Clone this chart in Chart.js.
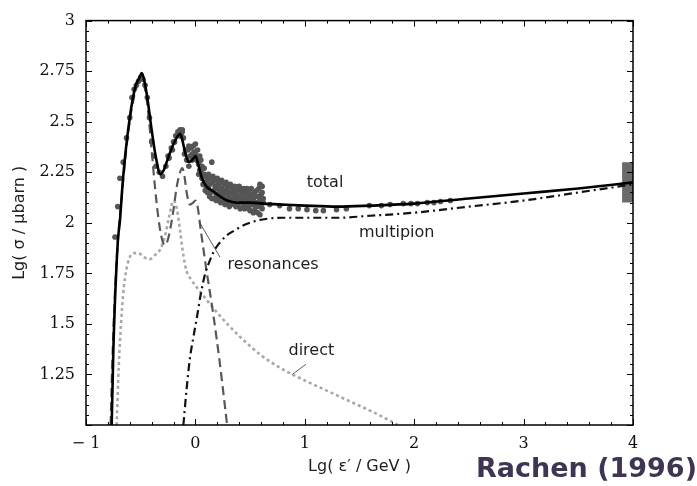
<!DOCTYPE html>
<html>
<head>
<meta charset="utf-8">
<script src="https://cdn.jsdelivr.net/npm/chart.js@4/dist/chart.umd.min.js"></script>
<style>
  html, body { margin: 0; padding: 0; background: #fff; }
  #wrap { width: 697px; height: 486px; }
</style>
</head>
<body>
<div id="wrap"><canvas id="myChart"></canvas></div>
<script>
// measured points
const measX = [-0.735,-0.71,-0.69,-0.66,-0.63,-0.60,-0.58,-0.56,-0.54,-0.52,-0.50,-0.48,-0.46,-0.44,-0.42,-0.40,-0.38,-0.36,-0.33,-0.30,
  -0.27,-0.25,-0.22,-0.20,-0.18,-0.16,-0.14,-0.12,-0.11,-0.10,-0.08,-0.07,-0.05,-0.04,-0.03,-0.02,-0.01,0.00,0.01,0.02,
  0.03,0.04,0.05,0.06,0.08,0.09,0.10,0.11,0.12,0.13,0.15,0.14,0.16,0.17,0.18,0.19,0.20,0.21,0.22,0.23,
  0.24,0.25,0.26,0.27,0.28,0.29,0.30,0.31,0.32,0.33,0.34,0.35,0.36,0.37,0.38,0.39,0.40,0.41,0.42,0.43,
  0.44,0.45,0.46,0.47,0.48,0.49,0.50,0.51,0.52,0.53,0.54,0.55,0.56,0.57,0.58,0.59,0.60,0.61,0.62,
  0.68,0.77,0.86,0.94,1.02,1.10,1.17,1.29,1.38,1.59,1.70,1.78,1.90,1.97,2.03,2.12,2.18,2.24,2.33,
  0.05,0.06,0.07,0.08,0.09,0.10,0.11,0.12,0.13,0.14,0.15,0.16,0.17,0.18,0.19,0.20,0.21,0.22,0.23,0.24,
  0.25,0.26,0.27,0.28,0.29,0.30,0.31,0.32,0.33,0.34,0.35,0.36,0.37,0.38,0.39,0.40,0.41,0.42,0.43,0.44,
  0.45,0.46,0.47,0.48,0.49,0.50,0.51,0.52,0.53,0.54,0.55,0.56,0.57,0.58,0.59,0.60,0.61,0.62,0.59,0.61,
  -0.13,-0.15,-0.12,-0.09,-0.06,-0.03,0.00,0.02,0.04,0.03,-0.06,-0.24,-0.21,-0.19];
const measY = [1.93,2.08,2.22,2.30,2.42,2.52,2.62,2.66,2.68,2.70,2.72,2.71,2.68,2.62,2.52,2.40,2.33,2.28,2.25,2.23,
  2.28,2.33,2.37,2.40,2.43,2.45,2.46,2.45,2.42,2.34,2.31,2.36,2.33,2.37,2.34,2.38,2.35,2.39,2.31,2.36,
  2.29,2.26,2.31,2.22,2.24,2.20,2.18,2.21,2.17,2.19,2.30,2.15,2.20,2.16,2.18,2.14,2.17,2.19,2.15,2.13,
  2.17,2.14,2.16,2.12,2.15,2.17,2.13,2.11,2.15,2.12,2.16,2.10,2.14,2.12,2.15,2.09,2.13,2.16,2.11,2.14,
  2.08,2.12,2.15,2.10,2.13,2.07,2.11,2.14,2.09,2.12,2.06,2.10,2.13,2.08,2.17,2.11,2.14,2.07,2.10,
  2.09,2.085,2.07,2.07,2.065,2.06,2.06,2.065,2.07,2.085,2.085,2.09,2.095,2.095,2.095,2.10,2.10,2.105,2.11,
  2.25,2.28,2.19,2.27,2.16,2.23,2.15,2.24,2.13,2.22,2.12,2.23,2.12,2.21,2.11,2.22,2.12,2.20,2.10,2.21,
  2.11,2.19,2.09,2.20,2.10,2.18,2.08,2.19,2.09,2.17,2.13,2.18,2.08,2.17,2.12,2.18,2.07,2.16,2.10,2.17,
  2.07,2.12,2.17,2.09,2.15,2.06,2.17,2.12,2.05,2.15,2.08,2.16,2.05,2.13,2.19,2.09,2.15,2.12,2.04,2.18,
  2.44,2.43,2.46,2.36,2.38,2.31,2.34,2.32,2.33,2.24,2.28,2.32,2.36,2.40];

const totalX = [-0.765,-0.75,-0.71,-0.69,-0.66,-0.60,-0.55,-0.51,-0.49,-0.47,-0.44,-0.40,-0.36,-0.32,-0.29,-0.25,-0.20,-0.16,-0.14,-0.12,
  -0.09,-0.06,-0.03,0.00,0.03,0.06,0.10,0.15,0.20,0.29,0.38,0.50,0.62,0.80,1.00,1.30,1.60,2.00,2.50,3.00,3.50,4.00];
const totalY = [1.0,1.37,1.90,2.01,2.23,2.52,2.67,2.72,2.74,2.71,2.62,2.46,2.32,2.24,2.26,2.32,2.39,2.43,2.44,2.41,
  2.34,2.30,2.31,2.33,2.28,2.22,2.18,2.16,2.14,2.11,2.10,2.10,2.095,2.09,2.085,2.08,2.085,2.095,2.12,2.145,2.17,2.20];

const resX = [-0.775,-0.76,-0.74,-0.71,-0.67,-0.62,-0.57,-0.52,-0.49,-0.46,-0.43,-0.40,-0.37,-0.34,-0.31,-0.28,-0.25,-0.21,-0.17,-0.14,
  -0.12,-0.10,-0.08,-0.05,-0.02,0.00,0.02,0.05,0.10,0.16,0.22,0.29];
const resY = [1.0,1.3,1.6,1.9,2.15,2.42,2.60,2.69,2.70,2.66,2.54,2.36,2.18,2.03,1.93,1.89,1.92,2.03,2.18,2.25,
  2.27,2.23,2.15,2.09,2.10,2.11,2.08,1.96,1.77,1.56,1.32,1.0];

const directX = [-0.72,-0.70,-0.68,-0.66,-0.63,-0.60,-0.56,-0.52,-0.47,-0.42,-0.37,-0.32,-0.28,-0.24,-0.20,-0.17,-0.14,-0.11,-0.08,-0.04,
  0.00,0.10,0.20,0.30,0.40,0.60,0.80,1.00,1.20,1.40,1.60,1.80,1.85];
const directY = [1.0,1.3,1.5,1.65,1.77,1.83,1.85,1.85,1.83,1.82,1.84,1.87,1.93,2.03,2.11,2.07,1.96,1.84,1.76,1.72,
  1.69,1.62,1.555,1.495,1.44,1.345,1.275,1.22,1.17,1.12,1.07,1.015,1.0];

const multiX = [-0.11,-0.08,-0.05,-0.02,0.01,0.05,0.09,0.13,0.17,0.22,0.28,0.35,0.45,0.60,0.80,1.00,1.30,1.60,2.00,2.50,3.00,3.50,4.00];
const multiY = [1.0,1.18,1.33,1.43,1.52,1.65,1.75,1.81,1.86,1.90,1.935,1.96,1.99,2.015,2.025,2.025,2.025,2.035,2.05,2.08,2.11,2.15,2.19];

// error box at the high energy end
const boxX = [3.9, 4.0];
const boxTop = [2.30, 2.30];
const boxBottom = [2.10, 2.10];

const yTicks = [1.25, 1.5, 1.75, 2, 2.25, 2.5, 2.75, 3];
const xTicks = [-1, 0, 1, 2, 3, 4];

// curve labels
const labels = [
  { text: 'total', x: 1.185, y: 2.20 },
  { text: 'multipion', x: 1.84, y: 1.95 },
  { text: 'resonances', x: 0.71, y: 1.79 },
  { text: 'direct', x: 1.06, y: 1.365 }
];
const leaders = [
  [[0.04, 2.0], [0.225, 1.83]],
  [[0.885, 1.25], [1.01, 1.30]]
];

const pts = (xs, ys) => xs.map((x, i) => ({ x: x, y: ys[i] }));
const sansFont = '"DejaVu Sans", sans-serif';

const framePlugin = {
  id: 'frame',
  afterDatasetsDraw: function (chart) {
    const ctx = chart.ctx;
    const xs = chart.scales.x, ys = chart.scales.y;
    const a = chart.chartArea;
    ctx.save();
    // leader lines
    ctx.strokeStyle = '#333';
    ctx.lineWidth = 0.8;
    leaders.forEach(function (l) {
      ctx.beginPath();
      ctx.moveTo(xs.getPixelForValue(l[0][0]), ys.getPixelForValue(l[0][1]));
      ctx.lineTo(xs.getPixelForValue(l[1][0]), ys.getPixelForValue(l[1][1]));
      ctx.stroke();
    });
    ctx.fillStyle = '#1e1e1e';
    ctx.font = '16px ' + sansFont;
    ctx.textAlign = 'center';
    ctx.textBaseline = 'middle';
    labels.forEach(function (l) {
      ctx.fillText(l.text, xs.getPixelForValue(l.x), ys.getPixelForValue(l.y));
    });
    // frame
    ctx.strokeStyle = '#000';
    ctx.lineWidth = 1.5;
    ctx.strokeRect(a.left, a.top, a.right - a.left, a.bottom - a.top);
    // inside ticks on all four sides
    ctx.lineWidth = 1;
    ctx.beginPath();
    for (let i = 0; i <= 40; i++) {
      const v = 1 + i * 0.05;
      const p = Math.round(ys.getPixelForValue(v)) + 0.5;
      const len = (i % 5 === 0) ? 6 : 3;
      ctx.moveTo(a.left, p); ctx.lineTo(a.left + len, p);
      ctx.moveTo(a.right, p); ctx.lineTo(a.right - len, p);
    }
    for (let i = 0; i <= 25; i++) {
      const v = -1 + i * 0.2;
      const p = Math.round(xs.getPixelForValue(v)) + 0.5;
      const len = (i % 5 === 0) ? 6 : 3;
      ctx.moveTo(p, a.bottom); ctx.lineTo(p, a.bottom - len);
      ctx.moveTo(p, a.top); ctx.lineTo(p, a.top + len);
    }
    ctx.stroke();
    ctx.restore();
  },
  afterDraw: function (chart) {
    const ctx = chart.ctx;
    ctx.save();
    ctx.fillStyle = '#3f3454';
    ctx.font = 'bold 27px ' + sansFont;
    ctx.textAlign = 'right';
    ctx.textBaseline = 'alphabetic';
    ctx.fillText('Rachen (1996)', 697, 477);
    ctx.restore();
  }
};

const ctx = document.getElementById('myChart').getContext('2d');
new Chart(ctx, {
  type: 'scatter',
  data: {
    datasets: [
      { type: 'line', data: pts(totalX, totalY), borderColor: '#000', borderWidth: 2.6,
        pointRadius: 0, cubicInterpolationMode: 'monotone', fill: false },
      { type: 'line', data: pts(multiX, multiY), borderColor: '#111', borderWidth: 2.2,
        borderDash: [8, 4, 2, 4], pointRadius: 0, cubicInterpolationMode: 'monotone', fill: false },
      { type: 'line', data: pts(resX, resY), borderColor: '#585858', borderWidth: 2.2,
        borderDash: [9, 5], pointRadius: 0, cubicInterpolationMode: 'monotone', fill: false },
      { type: 'line', data: pts(directX, directY), borderColor: '#a8a8a8', borderWidth: 2.6,
        borderDash: [3, 3], pointRadius: 0, cubicInterpolationMode: 'monotone', fill: false },
      { data: pts(measX, measY), backgroundColor: '#555', borderWidth: 0, pointRadius: 2.8 },
      { type: 'line', data: pts(boxX, boxTop), borderWidth: 0, pointRadius: 0,
        fill: '+1', backgroundColor: '#6a6a6a' },
      { type: 'line', data: pts(boxX, boxBottom), borderWidth: 0, pointRadius: 0, fill: false }
    ]
  },
  options: {
    responsive: true,
    maintainAspectRatio: false,
    animation: false,
    layout: { padding: { left: 8, right: 64, top: 14, bottom: 0 } },
    plugins: { legend: { display: false }, tooltip: { enabled: false } },
    scales: {
      x: {
        type: 'linear', min: -1, max: 4,
        afterFit: function (scale) { scale.height = 61; },
        afterBuildTicks: function (scale) { scale.ticks = xTicks.map(v => ({ value: v })); },
        grid: { display: false, drawTicks: false },
        border: { display: false },
        ticks: {
          padding: 9, color: '#111',
          font: { family: '"DejaVu Serif", serif', size: 16 },
          callback: v => (v < 0 ? '\u2212 ' + Math.abs(v) : String(v))
        },
        title: { display: true, text: 'Lg( \u03b5\u2032 / GeV )', color: '#1e1e1e',
          font: { family: sansFont, size: 16 }, padding: { top: 4, bottom: 10 } }
      },
      y: {
        type: 'linear', min: 1.0, max: 3,
        afterFit: function (scale) { scale.width = 78; },
        afterBuildTicks: function (scale) { scale.ticks = yTicks.map(v => ({ value: v })); },
        grid: { display: false, drawTicks: false },
        border: { display: false },
        ticks: {
          padding: 11, color: '#111',
          font: { family: '"DejaVu Serif", serif', size: 16 },
          callback: v => String(v)
        },
        title: { display: true, text: 'Lg( \u03c3 / \u03bcbarn )', color: '#1e1e1e',
          font: { family: sansFont, size: 16 }, padding: { top: 2, bottom: 4 } }
      }
    }
  },
  plugins: [framePlugin]
});
</script>
</body>
</html>
